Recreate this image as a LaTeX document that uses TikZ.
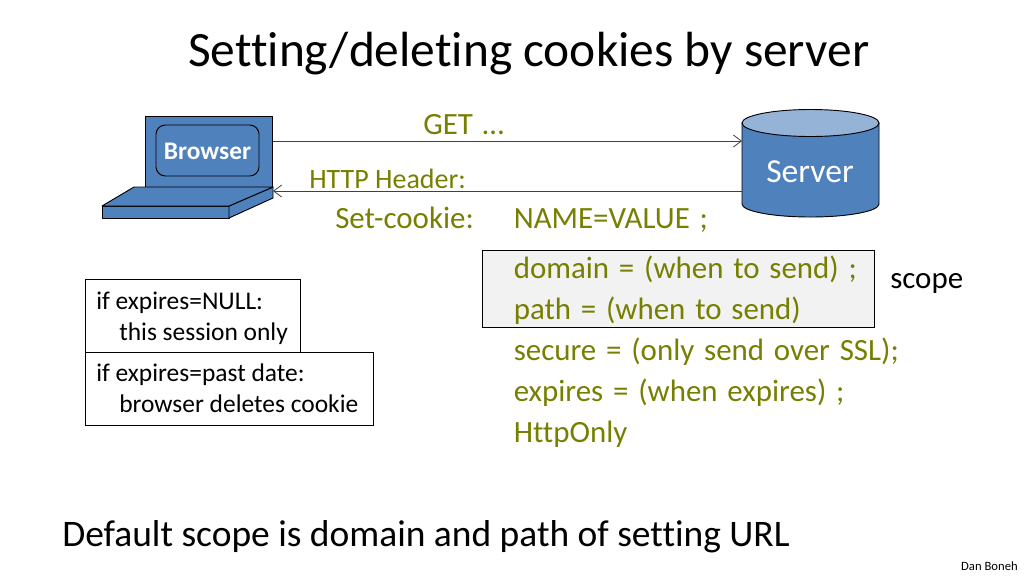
\documentclass[tikz,border=0pt]{standalone}
\usepackage{fontspec}
\setmainfont{Carlito}[Ligatures=CommonOff]
\newfontfamily\lblfont{Carlito}[Ligatures=CommonOff,WordSpace=1.4]
\usetikzlibrary{arrows.meta}
\definecolor{olivetext}{RGB}{119,127,0}
\definecolor{bluefill}{RGB}{79,129,189}
\definecolor{bluetop}{RGB}{149,179,215}
\definecolor{boxgray}{RGB}{242,242,242}
\tikzset{
	lbl/.style={inner sep=0pt,anchor=base west,text=olivetext,font=\lblfont\fontsize{23.2}{24}\selectfont},
	note/.style={draw,fill=white,line width=.75pt,anchor=north west,minimum height=54.5pt,inner sep=0pt},
	notetxt/.style={inner sep=0pt,anchor=base west,font=\fontsize{19.1}{20}\selectfont},
	bluepart/.style={draw=black,fill=bluefill,line width=.7pt,line join=round},
	msg/.style={draw=black!75,line width=.6pt,-{Straight Barb[length=6pt,width=9pt]}}
}
\begin{document}
\begin{tikzpicture}[x=.75pt,y=-.75pt]
	\useasboundingbox (0,0) rectangle (1024,576);
	\node[inner sep=0pt,anchor=base west,font=\fontsize{37.05}{38}\selectfont] (title) at (188,66){Setting/deleting cookies by server};
	% laptop
	\draw[bluepart] (145,116) rectangle (272,187);
	\draw[bluepart,rounded corners=7pt] (156,125) rectangle (259,176);
	\node[inner sep=0pt,text=white,font=\bfseries\fontsize{19}{20}\selectfont] (browser) at (207.5,151){Browser};
	\draw[bluepart] (102,206) -- (229,206) -- (229,218) -- (102,218) -- cycle;
	\draw[bluepart] (229,206) -- (273,187) -- (273,198) -- (229,218) -- cycle;
	\draw[bluepart] (102,206) -- (134,187) -- (273,187) -- (229,206) -- cycle;
	\coordinate (lapout) at (273,141);
	\coordinate (lapin) at (273,191);
	% server
	\draw[bluepart] (742,123) -- (742,204) arc[start angle=180,end angle=0,x radius=68.5,y radius=13] -- (879,123);
	\draw[draw=black,fill=bluetop,line width=.7pt] (810.5,123) ellipse[x radius=68.5,y radius=13.5];
	\node[inner sep=0pt,text=white,font=\fontsize{25.2}{26}\selectfont] (server) at (810,172){Server};
	\coordinate (srvin) at (742,141);
	\coordinate (srvout) at (742,191);
	\draw[msg] (lapout) -- (srvin);
	\draw[msg] (srvout) -- (lapin);
	\node[lbl] (get) at (423,134){GET …};
	\node[lbl,font=\fontsize{21}{24}\selectfont] (header) at (309,188){HTTP Header:};
	\node[lbl] (setc) at (335,228){Set-cookie:};
	\node[lbl] (name) at (513.5,228){NAME=VALUE ;};
	% scope
	\node[draw,fill=boxgray,line width=.75pt,anchor=north west,minimum width=294pt,minimum height=58pt,inner sep=0pt] (scopebox) at (482,250){};
	\node[lbl] (domain) at (513.5,278){domain = (when to send) ;};
	\node[lbl] (path) at (513.5,319){path = (when to send)};
	\node[lbl] (secure) at (513.5,360){secure = (only send over SSL);};
	\node[lbl] (expires) at (513.5,401){expires = (when expires) ;};
	\node[lbl] (httponly) at (513.5,442){HttpOnly};
	\node[lbl,text=black] (scope) at (890,288){scope};
	% notes
	\node[note,minimum width=161.5pt] (nullbox) at (85,279){};
	\node[note,minimum width=216pt] (pastbox) at (85,352){};
	\node[notetxt] (null1) at (96,309){if expires=NULL:};
	\node[notetxt] (null2) at (119,340){this session only};
	\node[notetxt] (past1) at (96,381){if expires=past date:};
	\node[notetxt] (past2) at (119,412){browser deletes cookie};
	\node[inner sep=0pt,anchor=base west,font=\fontsize{28.1}{30}\selectfont] (default) at (62,546){Default scope is domain and path of setting URL};
	\node[inner sep=0pt,anchor=base east,font=\fontsize{9.5}{10}\selectfont] (sign) at (1018,570){Dan Boneh};
\end{tikzpicture}
\end{document}
